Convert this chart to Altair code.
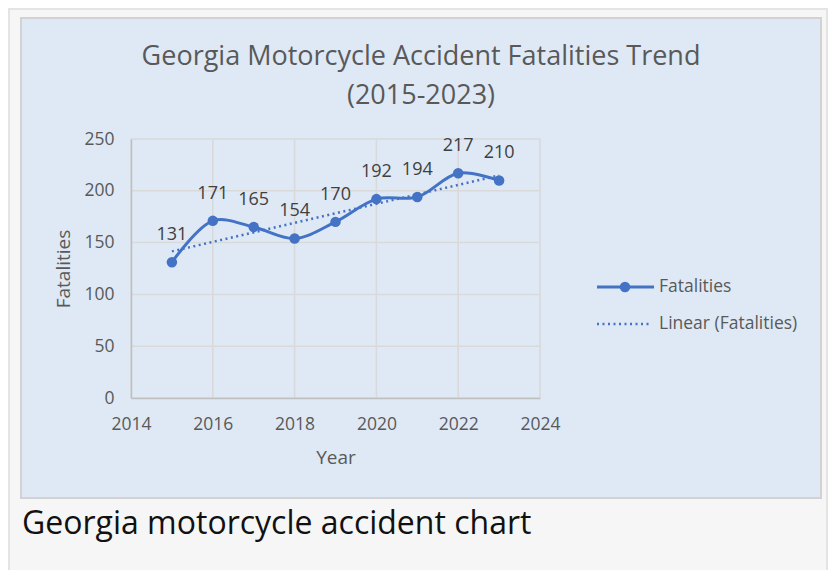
import altair as alt
import pandas as pd

years = [2015, 2016, 2017, 2018, 2019, 2020, 2021, 2022, 2023]
fatalities = [131, 171, 165, 154, 170, 192, 194, 217, 210]
x_ticks = [2014, 2016, 2018, 2020, 2022, 2024]
y_ticks = [0, 50, 100, 150, 200, 250]
title_lines = ["Georgia Motorcycle Accident Fatalities Trend", "(2015-2023)"]
legend_labels = ["Fatalities", "Linear (Fatalities)"]
caption = "Georgia motorcycle accident chart"

df = pd.DataFrame({"Year": years, "Fatalities": fatalities})
one = pd.DataFrame({"k": [0]})

BLUE = "#4472c4"
TXT = "#595959"
FONT = "Open Sans"

W, H = 409, 259

xs = alt.Scale(domain=[2014, 2024], nice=False)
ys = alt.Scale(domain=[0, 250], nice=False)
xaxis = alt.Axis(values=x_ticks, format="d", title="Year", zindex=2, grid=False)
yaxis = alt.Axis(values=y_ticks, title="Fatalities", zindex=2, grid=False)
x = alt.X("Year:Q", scale=xs, axis=xaxis)
y = alt.Y("Fatalities:Q", scale=ys, axis=yaxis)

# decorative frames
outer = alt.Chart(one).mark_rect(fill="#f6f6f6", stroke="#e4e4e4", strokeWidth=2).encode(
    x=alt.value(-122), x2=alt.value(W + 287), y=alt.value(-130), y2=alt.value(H + 180))
panel = alt.Chart(one).mark_rect(fill="#dee9f5", stroke="#d2d2d2", strokeWidth=2).encode(
    x=alt.value(-110), x2=alt.value(690), y=alt.value(-121), y2=alt.value(359))

# gridlines
gx = alt.Chart(pd.DataFrame({"Year": x_ticks})).mark_rule(color="#d9d9d9", strokeWidth=1.5).encode(x=x)
gy = alt.Chart(pd.DataFrame({"Fatalities": y_ticks})).mark_rule(color="#d9d9d9", strokeWidth=1.5).encode(y=y)

base = alt.Chart(df)
trend = base.transform_regression("Year", "Fatalities").mark_line(
    color=BLUE, strokeWidth=2.5, strokeDash=[2, 3.5]).encode(x=x, y=y)
line = base.mark_line(color=BLUE, strokeWidth=3, interpolate="catmull-rom").encode(x=x, y=y)
pts = base.mark_circle(color=BLUE, size=110, opacity=1).encode(x=x, y=y)
labels = base.mark_text(dy=-27, fontSize=18, font=FONT, color="#404040").encode(
    x=x, y=y, text=alt.Text("Fatalities:Q"))

# title
t1 = alt.Chart(pd.DataFrame({"t": [title_lines[0]]})).mark_text(
    align="center", baseline="alphabetic", fontSize=27, font=FONT, color=TXT).encode(
    x=alt.value(290), y=alt.value(-74), text="t:N")
t2 = alt.Chart(pd.DataFrame({"t": [title_lines[1]]})).mark_text(
    align="center", baseline="alphabetic", fontSize=27, font=FONT, color=TXT).encode(
    x=alt.value(290), y=alt.value(-35), text="t:N")

# legend
leg1 = alt.Chart(one).mark_rule(color=BLUE, strokeWidth=3).encode(
    x=alt.value(466), x2=alt.value(523), y=alt.value(148))
leg1p = alt.Chart(one).mark_circle(color=BLUE, size=110, opacity=1).encode(
    x=alt.value(494), y=alt.value(148))
leg2 = alt.Chart(one).mark_rule(color=BLUE, strokeWidth=2.5, strokeDash=[2, 3.5]).encode(
    x=alt.value(466), x2=alt.value(521), y=alt.value(185))
lt1 = alt.Chart(pd.DataFrame({"t": [legend_labels[0]]})).mark_text(
    align="left", baseline="middle", fontSize=17.5, font=FONT, color=TXT).encode(
    x=alt.value(528), y=alt.value(148), text="t:N")
lt2 = alt.Chart(pd.DataFrame({"t": [legend_labels[1]]})).mark_text(
    align="left", baseline="middle", fontSize=17.5, font=FONT, color=TXT).encode(
    x=alt.value(528), y=alt.value(185), text="t:N")

cap = alt.Chart(pd.DataFrame({"t": [caption]})).mark_text(
    align="left", baseline="middle", fontSize=32, font=FONT, color="#111111").encode(
    x=alt.value(-109), y=alt.value(385), text="t:N")

chart = alt.layer(outer, panel, gx, gy, trend, line, pts, labels, t1, t2,
                  leg1, leg1p, leg2, lt1, lt2, cap).properties(
    width=W, height=H,
    autosize=alt.AutoSizeParams(type="none"),
    padding={"left": 123, "top": 131, "right": 288, "bottom": 172},
    background="#ffffff",
).configure_view(stroke=None).configure_axis(
    domainColor="#bfbfbf", domainWidth=1.5, labelFlush=False,
    ticks=False, labelFont=FONT, labelFontSize=17.5, labelColor=TXT,
    titleFont=FONT, titleFontSize=19, titleColor=TXT, titleFontWeight="normal",
).configure_axisX(labelPadding=17, titlePadding=16).configure_axisY(labelPadding=17, titlePadding=10)

chart.save("out.html", embed_options={"renderer": "svg", "actions": False})
